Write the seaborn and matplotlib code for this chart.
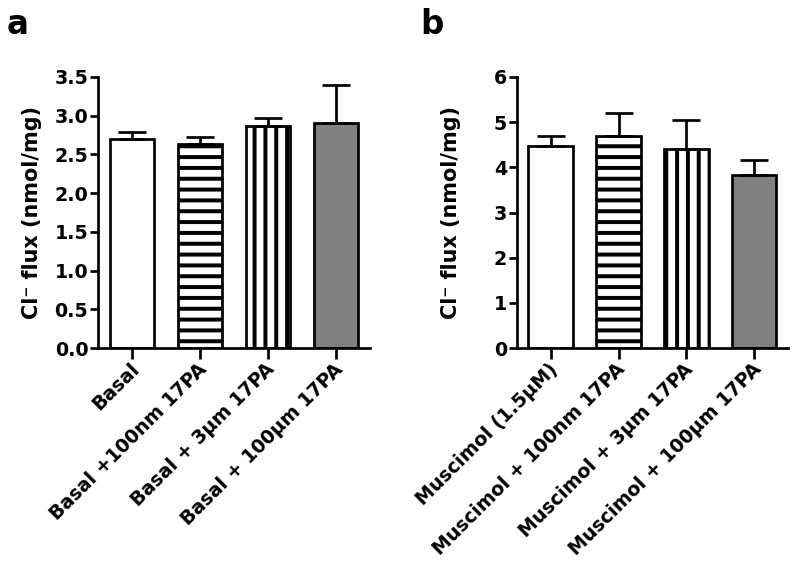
import numpy as np
import matplotlib.pyplot as plt
import matplotlib.transforms as mtransforms
import seaborn as sns

# panel a: basal
basal_labels = ["Basal", "Basal +100nm 17PA", "Basal + 3\u03bcm 17PA", "Basal + 100\u03bcm 17PA"]
basal_mean = [2.70, 2.64, 2.87, 2.90]
basal_sem = [0.09, 0.08, 0.10, 0.50]

# panel b: muscimol
musc_labels = ["Muscimol (1.5\u03bcM)", "Muscimol + 100nm 17PA",
               "Muscimol + 3\u03bcm 17PA", "Muscimol + 100\u03bcm 17PA"]
musc_mean = [4.47, 4.70, 4.40, 3.84]
musc_sem = [0.22, 0.51, 0.64, 0.33]

bar_colors = ["white", "white", "white", "#808080"]
bar_hatches = ["", "--", "||", ""]

DPI = 130
LW = 1.5

sns.set_style("ticks")
plt.rcParams["font.family"] = ["DejaVu Sans"]
plt.rcParams["font.weight"] = "bold"
plt.rcParams["axes.labelweight"] = "bold"
for key in ["text.color", "axes.labelcolor", "xtick.color", "ytick.color", "axes.edgecolor"]:
    plt.rcParams[key] = "black"
plt.rcParams["hatch.linewidth"] = 2.2
plt.rcParams["hatch.color"] = "black"

fig = plt.figure(figsize=(800 / DPI, 566 / DPI), dpi=DPI)
ax1 = fig.add_axes([0.1225, 0.385, 0.34, 0.479])
ax2 = fig.add_axes([0.646, 0.385, 0.339, 0.479])


def draw_panel(ax, labels, means, sems, ymax, step, fmt):
    sns.barplot(x=labels, y=means, hue=labels, palette=bar_colors, legend=False,
                width=0.66, edgecolor="black", linewidth=LW, saturation=1, ax=ax)
    for patch, h in zip(ax.patches, bar_hatches):
        patch.set_hatch(h)
    ax.errorbar(np.arange(len(means)), means, yerr=[np.zeros(len(sems)), sems],
                fmt="none", ecolor="black", elinewidth=LW, capsize=7.5,
                capthick=LW, zorder=5)
    ax.set_ylim(0, ymax)
    ax.set_xlim(-0.5, len(means) - 0.5)
    ax.set_yticks(np.arange(0, ymax + step / 2, step))
    ax.yaxis.set_major_formatter(plt.FormatStrFormatter(fmt))
    sns.despine(ax=ax)
    for s in ["left", "bottom"]:
        ax.spines[s].set_linewidth(LW)
    ax.tick_params(axis="y", length=4.4, width=LW, pad=1, labelsize=10.5)
    ax.tick_params(axis="x", length=6, width=LW, pad=3, labelsize=10.5)
    ax.set_xticks(range(len(labels)))
    ax.set_xticklabels(labels, rotation=45, ha="right", va="center",
                       rotation_mode="anchor")
    shift = mtransforms.ScaledTranslation(4 / DPI, -2 / DPI, fig.dpi_scale_trans)
    for lab in ax.get_xticklabels():
        lab.set_transform(lab.get_transform() + shift)
    ax.set_xlabel("")
    ax.set_ylabel("Cl\u207b flux (nmol/mg)", fontsize=11.5, fontweight="bold")
    ax.yaxis.set_label_coords(-0.205, 0.5)


draw_panel(ax1, basal_labels, basal_mean, basal_sem, 3.5, 0.5, "%.1f")
draw_panel(ax2, musc_labels, musc_mean, musc_sem, 6, 1, "%d")

fig.text(7 / 800, 1 - 34 / 566, "a", fontsize=18, fontweight="bold", va="baseline")
fig.text(420 / 800, 1 - 34 / 566, "b", fontsize=18, fontweight="bold", va="baseline")

fig.savefig("out.png", dpi=DPI)
